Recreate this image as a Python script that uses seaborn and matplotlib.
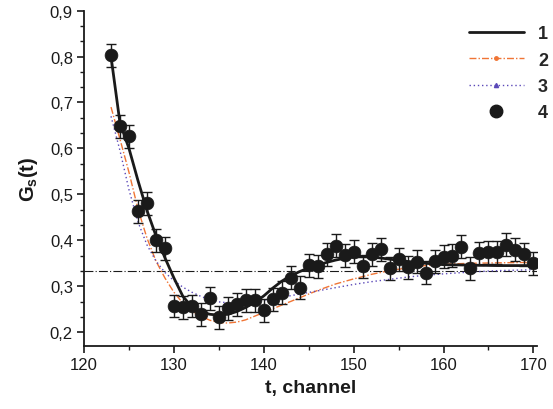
import numpy as np
import pandas as pd
import matplotlib
matplotlib.use("Agg")
import matplotlib.pyplot as plt
from matplotlib.lines import Line2D
from matplotlib.ticker import MultipleLocator
import seaborn as sns

# Measured correlation function G_s(t) per channel
channel = list(range(123, 171))
gs_measured = [0.803, 0.648, 0.626, 0.463, 0.481, 0.400, 0.383, 0.257, 0.254, 0.257,
               0.239, 0.274, 0.232, 0.252, 0.261, 0.270, 0.270, 0.248, 0.272, 0.286,
               0.319, 0.297, 0.346, 0.344, 0.370, 0.388, 0.368, 0.375, 0.344, 0.370,
               0.381, 0.339, 0.359, 0.341, 0.353, 0.329, 0.354, 0.364, 0.366, 0.386,
               0.339, 0.372, 0.374, 0.374, 0.390, 0.379, 0.370, 0.350]
gs_error = 0.025

# Model curves
t_fit1 = [123, 124, 125, 126, 127, 128, 129, 130, 131, 132, 133, 134, 135, 136, 137,
          138, 139, 140, 141, 142, 143, 144, 145, 146, 147, 148, 149, 150, 152, 154,
          156, 158, 160, 163, 166, 170]
gs_fit1 = [0.800, 0.655, 0.600, 0.530, 0.465, 0.410, 0.362, 0.318, 0.278, 0.255,
           0.245, 0.239, 0.237, 0.239, 0.245, 0.254, 0.265, 0.279, 0.296, 0.311,
           0.323, 0.332, 0.340, 0.346, 0.352, 0.357, 0.361, 0.364, 0.364, 0.359,
           0.354, 0.350, 0.347, 0.346, 0.345, 0.345]

t_fit23 = [123, 124, 125, 126, 127, 128, 129, 130, 131, 132, 133, 134, 135, 136, 137,
           138, 139, 140, 142, 144, 146, 148, 150, 152, 154, 156, 158, 160, 163, 166, 170]
gs_fit2 = [0.690, 0.620, 0.548, 0.468, 0.405, 0.355, 0.318, 0.287, 0.263, 0.246,
           0.235, 0.226, 0.221, 0.220, 0.222, 0.227, 0.235, 0.243, 0.259, 0.275,
           0.291, 0.305, 0.316, 0.326, 0.334, 0.340, 0.345, 0.348, 0.350, 0.351, 0.352]
gs_fit3 = [0.670, 0.595, 0.510, 0.440, 0.390, 0.355, 0.330, 0.312, 0.298, 0.287,
           0.278, 0.271, 0.266, 0.264, 0.264, 0.265, 0.267, 0.270, 0.276, 0.283,
           0.290, 0.297, 0.304, 0.310, 0.315, 0.320, 0.324, 0.327, 0.331, 0.334, 0.336]

gs_limit = 1 / 3
legend_labels = ["1", "2", "3", "4"]

sns.set_theme(style="ticks")
plt.rcParams["font.family"] = ["Liberation Sans", "DejaVu Sans"]
plt.rcParams["mathtext.fontset"] = "custom"
plt.rcParams["mathtext.rm"] = "Liberation Sans:bold"
plt.rcParams["mathtext.it"] = "Liberation Sans:bold"
plt.rcParams["mathtext.bf"] = "Liberation Sans:bold"

black = "#1a1a1a"
orange = "#f07535"
blue = "#5a48b8"

fig = plt.figure(figsize=(5.53, 4.10), dpi=100)
ax = fig.add_axes([0.152, 0.1537, 0.819, 0.818])

df_meas = pd.DataFrame({"t": channel, "gs": gs_measured})
df1 = pd.DataFrame({"t": t_fit1, "gs": gs_fit1})
df23 = pd.DataFrame({"t": t_fit23, "gs2": gs_fit2, "gs3": gs_fit3})

ax.axhline(gs_limit, color=black, lw=0.8, ls=(0, (8, 2, 1, 2)), zorder=1)

sns.lineplot(data=df23, x="t", y="gs2", ax=ax, color=orange, lw=1.0,
             linestyle=(0, (5, 1.5, 1, 1.5)), zorder=2, estimator=None, sort=False)
sns.lineplot(data=df23, x="t", y="gs3", ax=ax, color=blue, lw=1.0,
             linestyle=(0, (1, 2)), zorder=2, estimator=None, sort=False)

ax.errorbar(df_meas["t"], df_meas["gs"], yerr=gs_error, fmt="none",
            ecolor=black, elinewidth=1.0, capsize=3.5, capthick=1.0, zorder=3)
sns.scatterplot(data=df_meas, x="t", y="gs", ax=ax, color=black, s=85,
                edgecolor=black, linewidth=0.5, zorder=4)
sns.lineplot(data=df1, x="t", y="gs", ax=ax, color=black, lw=2.0, zorder=5,
             estimator=None, sort=False)

ax.set_xlim(120, 170.4)
ax.set_ylim(0.17, 0.9)
ax.xaxis.set_major_locator(MultipleLocator(10))
ax.xaxis.set_minor_locator(MultipleLocator(5))
ax.yaxis.set_major_locator(MultipleLocator(0.1))
ax.yaxis.set_minor_locator(MultipleLocator(0.1 / 3))
ax.yaxis.set_major_formatter(plt.FuncFormatter(lambda v, p: f"{v:.1f}".replace(".", ",")))

sns.despine(ax=ax)
for side in ("left", "bottom"):
    ax.spines[side].set_linewidth(1.3)
    ax.spines[side].set_color(black)
ax.tick_params(which="major", direction="out", length=5, width=1.2,
               labelsize=12, colors=black, pad=3)
ax.tick_params(which="minor", direction="out", length=3, width=1.0, colors=black)

ax.set_xlabel("t, channel", fontsize=14, fontweight="bold", color=black, labelpad=5)
ax.set_ylabel(r"G$_{\mathrm{s}}$(t)", fontsize=14.5, fontweight="bold", color=black,
              labelpad=7)

handles = [
    Line2D([], [], color=black, lw=2.0),
    Line2D([], [], color=orange, lw=1.0, ls=(0, (5, 1.5, 1, 1.5)),
           marker="o", markersize=2.5),
    Line2D([], [], color=blue, lw=1.0, ls=(0, (1, 2)), marker="^", markersize=3),
    Line2D([], [], color=black, lw=0, marker="o", markersize=9),
]
leg = ax.legend(handles, legend_labels, loc="upper right",
                bbox_to_anchor=(0.991, 0.936), bbox_transform=fig.transFigure,
                frameon=False, handlelength=3.05, handletextpad=0.78,
                labelspacing=0.52, numpoints=1, borderpad=0, borderaxespad=0,
                prop={"weight": "bold", "size": 13})

fig.savefig("out.png", dpi=100)
